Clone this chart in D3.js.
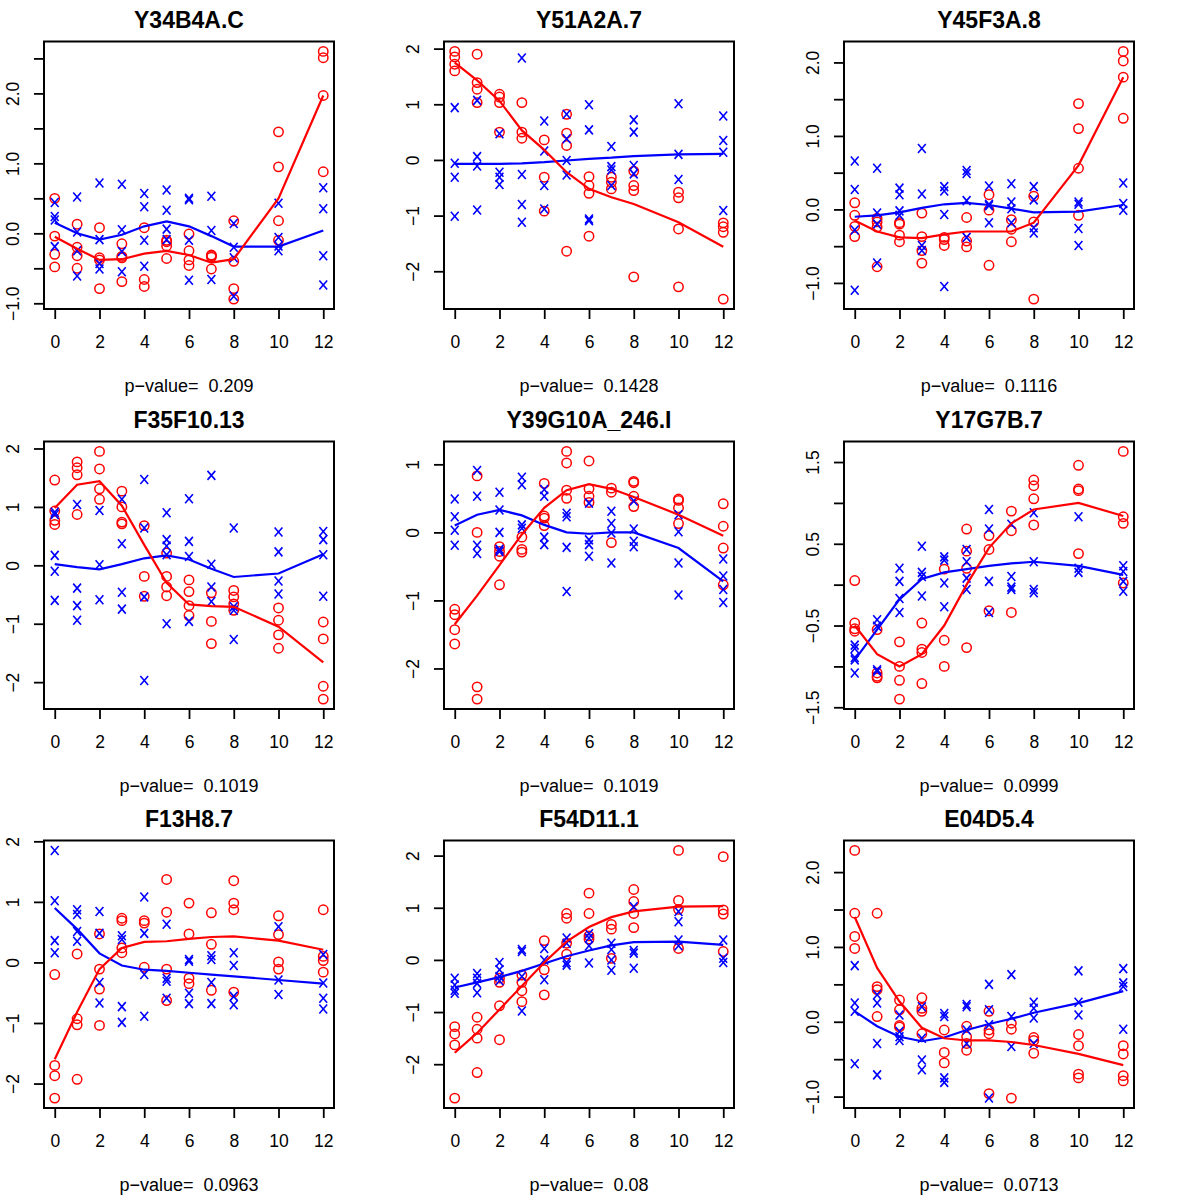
<!DOCTYPE html>
<html>
<head>
<meta charset="utf-8">
<script src="https://cdn.jsdelivr.net/npm/d3@7"></script>
<style>
  body { margin: 0; background: #fff; }
  svg { display: block; font-family: "Liberation Sans", Arial, Helvetica, sans-serif; }
</style>
</head>
<body>
<div id="chart"></div>
<script>
// DATA
var times = [0, 1, 2, 3, 4, 5, 6, 7, 8, 10, 12];
var xTicks = [0, 2, 4, 6, 8, 10, 12];

var genes = ["Y34B4A.C", "Y51A2A.7", "Y45F3A.8",
             "F35F10.13", "Y39G10A_246.I", "Y17G7B.7",
             "F13H8.7", "F54D11.1", "E04D5.4"];

var pValues = ["0.209", "0.1428", "0.1116", "0.1019", "0.1019", "0.0999", "0.0963", "0.08", "0.0713"];

// y ticks drawn, and the ticks that get a label
var yTicks = [
  [-1, -0.5, 0, 0.5, 1, 1.5, 2, 2.5],
  [-2, -1, 0, 1, 2],
  [-1, -0.5, 0, 0.5, 1, 1.5, 2],
  [-2, -1, 0, 1, 2],
  [-2, -1, 0, 1],
  [-1.5, -1, -0.5, 0, 0.5, 1, 1.5],
  [-2, -1, 0, 1, 2],
  [-2, -1, 0, 1, 2],
  [-1, -0.5, 0, 0.5, 1, 1.5, 2]
];
var yLabelTicks = [
  [-1, 0, 1, 2],
  [-2, -1, 0, 1, 2],
  [-1, 0, 1, 2],
  [-2, -1, 0, 1, 2],
  [-2, -1, 0, 1],
  [-1.5, -0.5, 0.5, 1.5],
  [-2, -1, 0, 1, 2],
  [-2, -1, 0, 1, 2],
  [-1, 0, 1, 2]
];
var yDigits = [1, 0, 1, 0, 0, 1, 0, 0, 1];

// replicate values per time point (red circles)
var redPoints = [
  [[0.5, -0.04, -0.3, -0.48], [0.13, -0.2, -0.32, -0.5], [0.08, -0.35, -0.38, -0.79], [-0.15, -0.33, -0.35, -0.69],
   [0.08, -0.66, -0.76], [-0.1, -0.12, -0.18, -0.36], [-0.01, -0.25, -0.38, -0.46], [-0.31, -0.32, -0.34, -0.51],
   [0.18, -0.4, -0.79, -0.94], [1.45, 0.95, 0.18, -0.1], [2.6, 2.51, 1.97, 0.88]],
  [[1.95, 1.85, 1.72, 1.6], [1.9, 1.39, 1.27, 1.03], [1.18, 1.13, 1.03, 0.5], [1.03, 0.5, 0.39],
   [0.36, -0.31, -0.92], [0.82, 0.48, 0.26, -1.64], [-0.3, -0.46, -0.6, -1.37], [-0.31, -0.4, -0.52],
   [-0.2, -0.46, -0.55, -2.1], [-0.58, -0.68, -1.24, -2.28], [-1.13, -1.2, -1.3, -2.5]],
  [[0.09, -0.08, -0.23, -0.37], [-0.12, -0.17, -0.24, -0.78], [-0.18, -0.2, -0.35, -0.44], [-0.05, -0.37, -0.56, -0.73],
   [-0.38, -0.41, -0.49], [-0.11, -0.43, -0.51], [0.2, -0.01, -0.76], [-0.14, -0.27, -0.44],
   [0.18, -0.17, -1.22], [1.44, 1.1, 0.56, -0.08], [2.15, 2.02, 1.8, 1.24]],
  [[1.46, 0.93, 0.77, 0.7], [1.77, 1.67, 1.55, 0.87], [1.95, 1.65, 1.31, 1.13], [1.27, 1.0, 0.74, 0.71],
   [0.68, -0.19, -0.53], [0.21, -0.19, -0.37, -0.52], [-0.25, -0.45, -0.69, -0.86], [-0.47, -0.96, -1.34],
   [-0.43, -0.54, -0.66, -0.77], [-0.73, -0.94, -1.19, -1.42], [-0.97, -1.26, -2.07, -2.29]],
  [[-1.13, -1.21, -1.43, -1.64], [0.83, 0.0, -2.27, -2.45], [-0.21, -0.28, -0.35, -0.77], [-0.07, -0.25, -0.29],
   [0.72, 0.24, 0.21, 0.1], [1.19, 1.02, 0.62, 0.5], [1.05, 0.64, 0.53, 0.44], [0.65, 0.59, -0.15],
   [0.75, 0.73, 0.53, 0.38], [0.49, 0.47, 0.36, 0.13], [0.42, 0.09, -0.23, -0.77]],
  [[0.05, -0.47, -0.54, -0.57], [-0.55, -1.08, -1.12, -1.14], [-0.7, -1.0, -1.17, -1.4], [-0.47, -0.79, -0.83, -1.21],
   [0.19, -0.68, -1.0], [0.68, 0.41, 0.2, -0.77], [0.6, 0.43, -0.32], [0.9, 0.66, -0.34],
   [1.28, 1.21, 1.05, 0.73], [1.46, 1.17, 1.15, 0.38], [1.63, 0.83, 0.75, 0.02]],
  [[-0.2, -1.7, -1.87, -2.24], [0.14, -0.93, -1.03, -1.93], [0.47, -0.11, -0.44, -1.04], [0.73, 0.69, 0.24, 0.16],
   [0.69, 0.65, -0.08], [1.37, 0.83, -0.11, -0.63], [0.98, 0.47, -0.26, -0.35], [0.82, 0.3, -0.46],
   [1.35, 0.98, 0.87, -0.49], [0.77, 0.46, 0.01, -0.11], [0.87, 0.1, 0.03, -0.16]],
  [[-1.28, -1.42, -1.63, -2.65], [-1.1, -1.33, -1.5, -2.16], [-0.35, -0.43, -0.88, -1.53], [-0.29, -0.43, -0.59, -0.8],
   [0.37, -0.19, -0.67], [0.89, 0.8, 0.32, 0.11], [1.28, 0.89, 0.46, 0.4], [0.68, 0.59, 0.03],
   [1.35, 1.12, 0.89, 0.62], [2.1, 1.14, 0.97, 0.22], [1.98, 0.96, 0.88, 0.16]],
  [[2.29, 1.45, 1.14, 0.98], [1.45, 0.47, 0.43, 0.07], [0.29, 0.16, -0.05, -0.07], [0.32, 0.18, 0.14, -0.16],
   [-0.11, -0.41, -0.55], [-0.06, -0.2, -0.29, -0.38], [0.14, -0.11, -0.16, -0.96], [-0.02, -0.1, -1.02],
   [-0.21, -0.25, -0.42], [-0.17, -0.32, -0.7, -0.75], [-0.32, -0.43, -0.72, -0.79]]
];

// replicate values per time point (blue crosses)
var bluePoints = [
  [[0.44, 0.24, 0.19, -0.19], [0.52, 0.02, -0.25, -0.61], [0.72, -0.09, -0.43, -0.51], [0.7, 0.05, -0.26, -0.55],
   [0.57, 0.38, -0.1, -0.47], [0.62, 0.33, 0.06, -0.09], [0.5, 0.48, -0.1, -0.67], [0.53, 0.04, -0.66],
   [0.14, -0.2, -0.35, -0.9], [0.43, -0.06, -0.18, -0.25], [0.65, 0.35, -0.32, -0.74]],
  [[0.94, -0.06, -0.31, -1.01], [1.07, 0.06, -0.11, -0.9], [0.47, -0.22, -0.31, -0.44], [1.83, -0.26, -0.8, -1.12],
   [0.7, 0.16, -0.46, -0.88], [0.82, 0.38, -0.01, -0.27], [0.99, 0.54, -1.06, -1.09], [0.24, -0.12, -0.18, -0.46],
   [0.72, 0.5, -0.1, -0.25], [1.01, 0.1, -0.35], [0.79, 0.35, 0.14, -0.91]],
  [[0.66, 0.27, -0.28, -1.1], [0.56, -0.05, -0.2, -0.73], [0.29, 0.2, -0.02, -0.08], [0.83, 0.21, -0.49, -0.56],
   [0.31, 0.25, -0.07, -1.05], [0.53, 0.49, 0.12, -0.38], [0.32, 0.07, 0.05, -0.18], [0.35, 0.1, 0.01, -0.18],
   [0.31, 0.13, -0.25, -0.32], [0.1, 0.07, -0.26, -0.49], [0.36, 0.08, -0.01]],
  [[0.91, 0.87, 0.17, -0.1, -0.6], [1.04, -0.39, -0.69, -0.94], [0.94, 0.01, -0.59], [1.13, 0.37, -0.46, -0.75],
   [1.47, 0.64, -0.54, -1.97], [0.9, 0.44, 0.33, 0.18, -1.0], [1.14, 0.41, 0.15, -0.96], [1.54, 0.02, -0.37, -0.62],
   [0.64, -0.71, -0.77, -1.27], [0.57, 0.23, -0.27, -0.49], [0.58, 0.44, 0.18, -0.53]],
  [[0.49, 0.23, 0.03, -0.19], [0.91, 0.53, -0.19, -0.31], [0.59, 0.33, 0.0, -0.25, -0.28], [0.81, 0.7, 0.11, 0.06],
   [0.63, 0.53, -0.07, -0.18], [0.28, 0.23, -0.22, -0.87], [0.43, -0.11, -0.18, -0.35], [0.31, 0.13, -0.01, -0.45],
   [0.46, 0.05, -0.13, -0.21], [0.26, 0.01, -0.45, -0.92], [-0.39, -0.64, -0.84, -1.03]],
  [[-0.74, -0.78, -0.89, -0.92, -1.08], [-0.43, -0.51, -1.04, -1.06], [0.2, 0.04, -0.17, -0.34], [0.47, 0.15, 0.1, -0.14],
   [0.34, 0.3, 0.02, -0.27], [0.43, 0.28, 0.08, -0.06], [0.92, 0.68, 0.04, -0.34], [0.74, 0.1, -0.03, -0.06],
   [0.88, 0.28, -0.06, -0.1], [0.83, 0.2, 0.15], [0.23, 0.16, 0.04, -0.08]],
  [[1.85, 1.02, 0.36, 0.16], [0.87, 0.79, 0.51, 0.35], [0.84, 0.48, -0.33, -0.67], [0.44, 0.38, -0.73, -0.99],
   [1.08, 0.48, -0.2, -0.89], [0.63, -0.26, -0.31, -0.59], [0.05, 0.02, -0.51, -0.68], [0.11, 0.05, -0.33, -0.68],
   [0.16, -0.05, -0.56, -0.7], [0.59, -0.29, -0.53], [0.13, -0.34, -0.59, -0.77]],
  [[-0.35, -0.48, -0.58, -0.64], [-0.26, -0.35, -0.45, -0.63], [-0.05, -0.19, -0.32, -0.4], [0.2, 0.16, -0.32, -0.98],
   [0.22, 0.0, -0.38], [0.42, 0.32, -0.05, -0.1], [0.5, 0.42, 0.27, -0.06], [0.32, 0.2, 0.0, -0.2],
   [1.02, 0.18, 0.13, -0.16], [0.93, 0.73, 0.38, 0.27], [0.38, 0.03, -0.05]],
  [[0.75, 0.25, 0.14, -0.56], [0.36, 0.25, -0.29, -0.71], [0.09, -0.13, -0.2, -0.25], [0.2, -0.22, -0.51, -0.64],
   [0.11, 0.07, -0.75, -0.81], [0.23, 0.2, -0.11, -0.29], [0.5, 0.16, -0.04, -1.02], [0.63, 0.07, -0.33],
   [0.26, 0.18, 0.05, -0.29], [0.68, 0.26, 0.09], [0.71, 0.52, 0.47, -0.1]]
];

// fitted curves, one value per time point
var redFit = [
  [-0.05, -0.22, -0.38, -0.37, -0.29, -0.25, -0.31, -0.42, -0.37, 0.5, 1.97],
  [1.75, 1.43, 1.06, 0.53, 0.18, -0.22, -0.52, -0.67, -0.79, -1.12, -1.56],
  [-0.15, -0.3, -0.38, -0.39, -0.34, -0.3, -0.3, -0.3, -0.18, 0.6, 1.8],
  [0.98, 1.38, 1.44, 1.02, 0.35, -0.3, -0.67, -0.7, -0.71, -1.05, -1.66],
  [-1.35, -0.93, -0.48, -0.03, 0.36, 0.62, 0.71, 0.64, 0.52, 0.26, -0.05],
  [-0.5, -0.85, -1.0, -0.85, -0.5, 0.0, 0.45, 0.75, 0.92, 1.0, 0.84],
  [-1.6, -0.82, -0.11, 0.24, 0.34, 0.35, 0.39, 0.42, 0.43, 0.36, 0.21],
  [-1.78, -1.4, -0.95, -0.5, -0.05, 0.35, 0.63, 0.82, 0.93, 1.02, 1.03],
  [1.4, 0.72, 0.27, -0.08, -0.22, -0.25, -0.25, -0.27, -0.31, -0.43, -0.58]
];
var blueFit = [
  [0.15, 0.0, -0.09, -0.02, 0.1, 0.17, 0.1, -0.04, -0.19, -0.19, 0.04],
  [-0.07, -0.07, -0.07, -0.06, -0.04, -0.01, 0.02, 0.04, 0.07, 0.1, 0.11],
  [-0.1, -0.08, -0.04, 0.02, 0.07, 0.09, 0.06, 0.01, -0.04, -0.03, 0.06],
  [0.02, -0.03, -0.07, 0.02, 0.12, 0.17, 0.1, -0.06, -0.2, -0.14, 0.19],
  [0.1, 0.26, 0.33, 0.25, 0.11, 0.0, -0.02, 0.0, 0.0, -0.23, -0.72],
  [-0.92, -0.55, -0.18, 0.07, 0.15, 0.19, 0.23, 0.26, 0.28, 0.23, 0.12],
  [0.9, 0.55, 0.15, -0.05, -0.12, -0.14, -0.17, -0.2, -0.23, -0.29, -0.35],
  [-0.53, -0.43, -0.33, -0.21, -0.07, 0.07, 0.18, 0.28, 0.34, 0.35, 0.29],
  [0.14, -0.06, -0.2, -0.26, -0.21, -0.11, -0.03, 0.04, 0.12, 0.25, 0.41]
];

// SET UP
var width = 1200, height = 1197;
var colX = [0, 400, 800], rowY = [0, 400, 799];
var box = {left: 44, right: 334, top: 41.5, bottom: 309};

var svg = d3.select("#chart").append("svg")
    .attr("width", width)
    .attr("height", height);

svg.append("rect").attr("width", width).attr("height", height).attr("fill", "#fff");

// R style axis range: data range stretched by 4% on each side
function padded(ext) {
    var p = 0.04 * (ext[1] - ext[0]);
    return [ext[0] - p, ext[1] + p];
}

function flatten(series) {
    var out = [];
    series.forEach(function(vals, i) {
        vals.forEach(function(v) { out.push({t: times[i], v: v}); });
    });
    return out;
}

genes.forEach(function(gene, i) {
    var g = svg.append("g")
        .attr("transform", "translate(" + colX[i % 3] + "," + rowY[Math.floor(i / 3)] + ")");

    var reds = flatten(redPoints[i]);
    var blues = flatten(bluePoints[i]);
    var all = reds.concat(blues);

    var x = d3.scaleLinear()
        .domain(padded(d3.extent(times)))
        .range([box.left, box.right]);
    var y = d3.scaleLinear()
        .domain(padded(d3.extent(all, function(d) { return d.v; })))
        .range([box.bottom, box.top]);

    // points
    g.append("g").selectAll("circle")
        .data(reds)
        .join("circle")
        .attr("cx", function(d) { return x(d.t); })
        .attr("cy", function(d) { return y(d.v); })
        .attr("r", 4.7)
        .attr("fill", "none")
        .attr("stroke", "#ff0000")
        .attr("stroke-width", 1.5);

    g.append("g").selectAll("path")
        .data(blues)
        .join("path")
        .attr("transform", function(d) { return "translate(" + x(d.t) + "," + y(d.v) + ")"; })
        .attr("d", "M-3.9,-4.5L3.9,4.5M-3.9,4.5L3.9,-4.5")
        .attr("fill", "none")
        .attr("stroke", "#0000ff")
        .attr("stroke-width", 1.6);

    // fitted lines
    var line = d3.line()
        .x(function(d, j) { return x(times[j]); })
        .y(function(d) { return y(d); });

    g.append("path")
        .datum(blueFit[i])
        .attr("d", line)
        .attr("fill", "none")
        .attr("stroke", "#0000ff")
        .attr("stroke-width", 2.2);

    g.append("path")
        .datum(redFit[i])
        .attr("d", line)
        .attr("fill", "none")
        .attr("stroke", "#ff0000")
        .attr("stroke-width", 2.2);

    // box
    g.append("rect")
        .attr("x", box.left)
        .attr("y", box.top)
        .attr("width", box.right - box.left)
        .attr("height", box.bottom - box.top)
        .attr("fill", "none")
        .attr("stroke", "#000")
        .attr("stroke-width", 2);

    // x axis
    var xAxis = g.append("g")
        .attr("transform", "translate(0," + box.bottom + ")")
        .call(d3.axisBottom(x).tickValues(xTicks).tickSize(10).tickSizeOuter(0).tickFormat(d3.format("d")));
    xAxis.select(".domain").remove();
    xAxis.selectAll("line").attr("stroke-width", 1.8);
    xAxis.selectAll("text")
        .attr("y", 39)
        .attr("dy", 0)
        .attr("font-size", 17.5)
        .attr("font-family", "Liberation Sans, Arial, sans-serif")
        .attr("fill", "#000");

    // y axis, labels parallel to the axis
    var fmt = d3.format("." + yDigits[i] + "f");
    var yAxis = g.append("g")
        .attr("transform", "translate(" + box.left + ",0)")
        .call(d3.axisLeft(y).tickValues(yTicks[i]).tickSize(10).tickSizeOuter(0)
            .tickFormat(function(v) { return yLabelTicks[i].indexOf(v) >= 0 ? fmt(v) : ""; }));
    yAxis.select(".domain").remove();
    yAxis.selectAll("line").attr("stroke-width", 1.8);
    yAxis.selectAll("text")
        .attr("x", 0)
        .attr("dy", 0)
        .attr("text-anchor", "middle")
        .attr("transform", "translate(-25.5,0) rotate(-90)")
        .attr("font-size", 17.5)
        .attr("font-family", "Liberation Sans, Arial, sans-serif")
        .attr("fill", "#000");

    // title and p-value
    var cx = (box.left + box.right) / 2;
    g.append("text")
        .attr("x", cx)
        .attr("y", 28)
        .attr("text-anchor", "middle")
        .attr("font-size", 23)
        .attr("font-weight", "bold")
        .text(gene);

    g.append("text")
        .attr("x", cx)
        .attr("y", 392)
        .attr("text-anchor", "middle")
        .attr("font-size", 18)
        .style("white-space", "pre")
        .text("p\u2212value=  " + pValues[i]);
});
</script>
</body>
</html>
